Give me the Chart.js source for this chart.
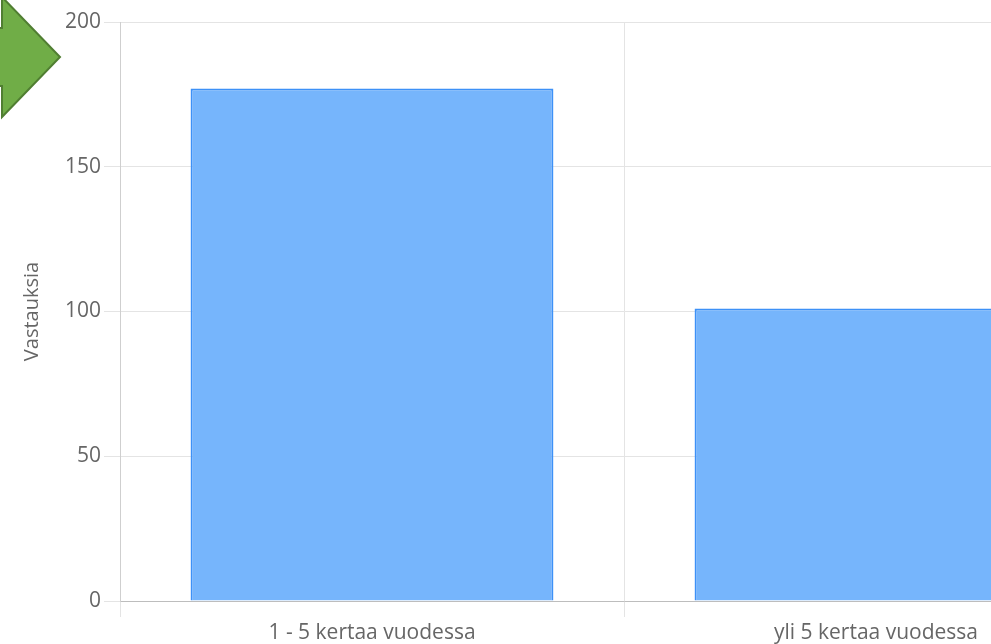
<!DOCTYPE html>
<html>
<head>
<meta charset="utf-8">
<script src="https://cdn.jsdelivr.net/npm/chart.js@4"></script>
<style>
  html, body { margin: 0; padding: 0; background: #fff; overflow: hidden; }
  #wrap { position: relative; width: 991px; height: 644px; overflow: hidden; }
  #chart { position: absolute; left: 0; top: 0; }
  #arrow { position: absolute; left: 0; top: 0; }
</style>
</head>
<body>
<div id="wrap">
  <canvas id="chart" width="1140" height="644"></canvas>
  <svg id="arrow" width="70" height="130">
    <polygon points="-60,28 2,28 2,-3 60,57 2,117 2,86 -60,86"
      fill="#70ad47" stroke="#507e32" stroke-width="2" />
  </svg>
</div>
<script>
const categories = ["1 - 5 kertaa vuodessa", "yli 5 kertaa vuodessa"];
const answers = [177, 101];
const yTicks = [0, 50, 100, 150, 200];
const yTitle = "Vastauksia";

const textColor = "#666";
const font = { family: "'Open Sans', 'Noto Sans', sans-serif", size: 21 };

new Chart(document.getElementById("chart"), {
  type: "bar",
  data: {
    labels: categories,
    datasets: [{
      label: yTitle,
      data: answers,
      backgroundColor: "#76b5fc",
      borderColor: "#3d91f7",
      borderWidth: 2,
    }],
  },
  options: {
    responsive: false,
    animation: false,
    layout: { padding: { top: 22, right: 12, left: 0, bottom: 0 } },
    plugins: { legend: { display: false }, tooltip: { enabled: false } },
    scales: {
      x: {
        grid: { color: "#e4e4e4", tickLength: 16, offset: true },
        border: { color: "#bdbdbd" },
        ticks: { color: textColor, font, padding: 3 },
        afterFit: (s) => { s.height = 43; },
      },
      y: {
        min: 0,
        max: yTicks[yTicks.length - 1],
        afterBuildTicks: (s) => { s.ticks = yTicks.map((v) => ({ value: v })); },
        grid: { color: "#e4e4e4", tickLength: 16 },
        border: { color: "#cfcfcf" },
        ticks: { color: textColor, font, padding: 3 },
        title: { display: true, text: yTitle, color: textColor, font: { ...font, size: 20 }, padding: { top: 20, bottom: 0 } },
        afterFit: (s) => { s.width = 120; },
      },
    },
  },
});
</script>
</body>
</html>
